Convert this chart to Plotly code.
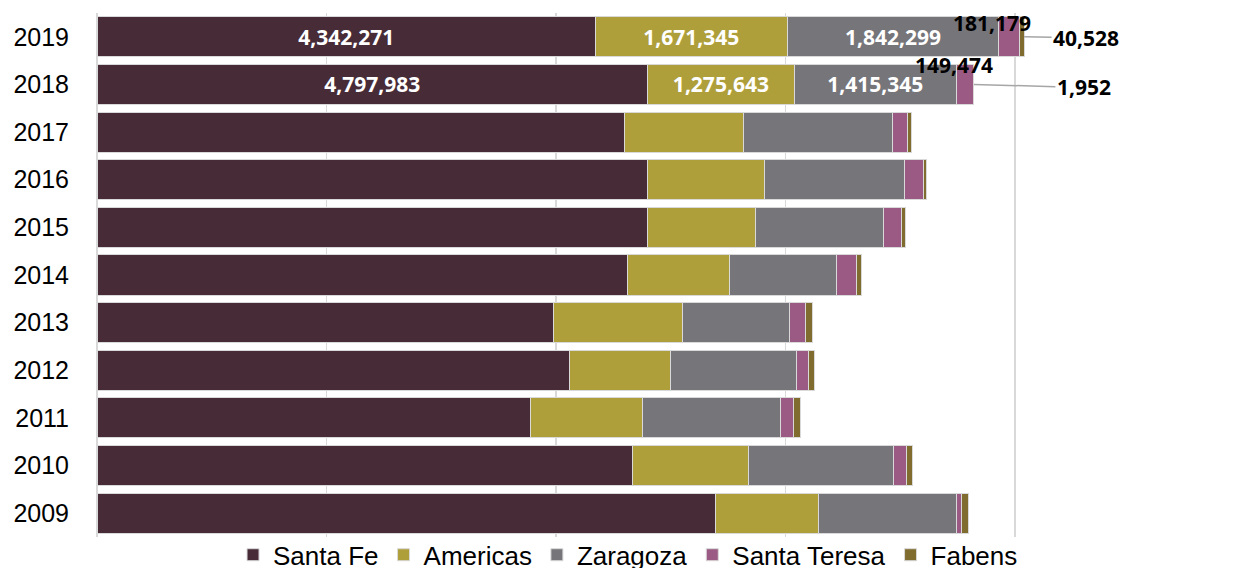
import plotly.graph_objects as go

years = ["2019", "2018", "2017", "2016", "2015", "2014", "2013", "2012", "2011", "2010", "2009"]
santa_fe = [4342271, 4797983, 4600000, 4792000, 4792000, 4618000, 3974000, 4113000, 3776000, 4664000, 5385000]
americas = [1671345, 1275643, 1034000, 1025000, 947000, 894000, 1126000, 882000, 981000, 1014000, 905000]
zaragoza = [1842299, 1415345, 1294000, 1219000, 1111000, 929000, 931000, 1097000, 1196000, 1259000, 1202000]
santa_teresa = [181179, 149474, 137000, 162000, 163000, 174000, 140000, 105000, 119000, 113000, 37000]
fabens = [40528, 1952, 35000, 32000, 28000, 49000, 67000, 58000, 55000, 52000, 61000]
labeled_years = ["2019", "2018"]

series = [
    ("Santa Fe", santa_fe, "#472B37"),
    ("Americas", americas, "#AF9F3B"),
    ("Zaragoza", zaragoza, "#76757A"),
    ("Santa Teresa", santa_teresa, "#9B5A84"),
    ("Fabens", fabens, "#7F6C2E"),
]
cat_order = years[::-1]  # bottom to top

fig = go.Figure()
for i, (name, vals, color) in enumerate(series):
    if i < 3:
        text = [f"<b>{v:,}</b>" if y in labeled_years else "" for y, v in zip(years, vals)]
    else:
        text = ["" for _ in vals]
    fig.add_trace(go.Bar(
        y=years, x=vals, name=name, orientation="h", width=0.84,
        marker=dict(color=color, line=dict(color="#d9d9d9", width=1)),
        text=text, textposition="inside", insidetextanchor="middle",
        textfont=dict(family="Open Sans", size=21, color="white"),
    ))

def cum(idx, upto):
    return sum(s[1][idx] for s in series[:upto])

annotations = []
for y, xs, ys in [("2019", -17, 14), ("2018", -11, 19)]:
    idx = years.index(y)
    start = cum(idx, 3)
    mid = start + santa_teresa[idx] / 2
    annotations.append(dict(
        x=mid, y=cat_order.index(y), xref="x", yref="y",
        text=f"<b>{santa_teresa[idx]:,}</b>",
        showarrow=False, xshift=xs, yshift=ys,
        font=dict(family="Open Sans", size=21, color="black"),
    ))
for y, ax, ay in [("2019", 62, 1), ("2018", 110, 3)]:
    idx = years.index(y)
    total = cum(idx, 5)
    annotations.append(dict(
        x=total, y=cat_order.index(y), xref="x", yref="y",
        text=f"<b>{fabens[idx]:,}</b>",
        showarrow=True, arrowhead=0, arrowwidth=1.5, arrowcolor="#a6a6a6",
        ax=ax, ay=ay, standoff=0,
        font=dict(family="Open Sans", size=21, color="black"),
    ))

fig.update_layout(
    barmode="stack",
    width=1239, height=568,
    margin=dict(l=97, r=0, t=13, b=31, autoexpand=False),
    plot_bgcolor="white", paper_bgcolor="white",
    font=dict(family="Liberation Sans, Arial", color="black"),
    dragmode=False,
    legend=dict(
        orientation="h", x=0.465, xanchor="center", y=-0.034, yanchor="middle",
        font=dict(family="Liberation Sans, Arial", size=26, color="black"),
        traceorder="normal", bgcolor="rgba(0,0,0,0)",
    ),
    annotations=annotations,
    xaxis=dict(
        range=[0, 9.95e6], autorange=False, dtick=2e6, tick0=0, showticklabels=False,
        showgrid=True, gridcolor="#d9d9d9", gridwidth=1.5,
        zeroline=True, zerolinecolor="#d9d9d9", zerolinewidth=1.5,
        showline=False, fixedrange=True,
    ),
    yaxis=dict(
        type="category", categoryorder="array", categoryarray=cat_order,
        range=[-0.5, len(years) - 0.5], autorange=False, fixedrange=True,
        showgrid=False, showline=False, zeroline=False,
        tickfont=dict(family="Liberation Sans, Arial", size=25, color="black"),
        ticks="outside", ticklen=22, tickcolor="rgba(0,0,0,0)",
    ),
)

fig.write_html("out.html", config={"staticPlot": True},
               post_script="document.body.style.margin='0';")
